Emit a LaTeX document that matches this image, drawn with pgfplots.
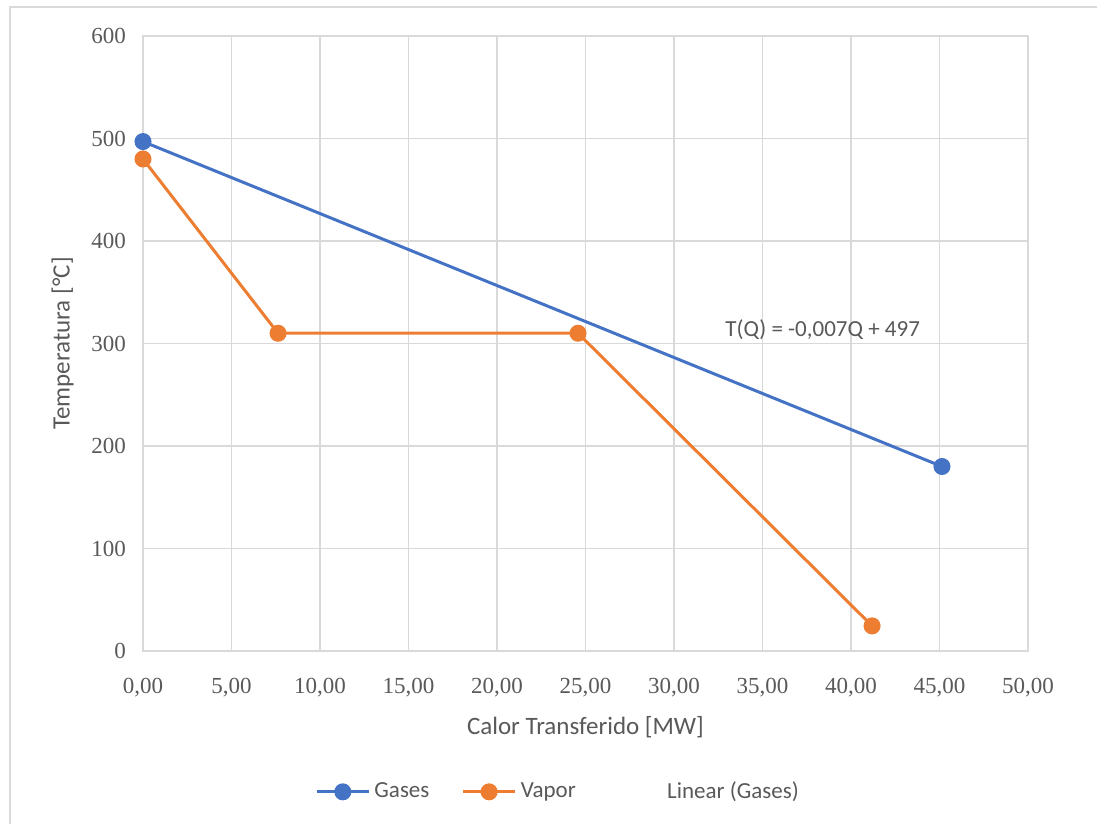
\documentclass[border=0pt]{standalone}
\usepackage{fontspec}
\setmainfont{Carlito}
\newfontfamily\tickfont{Liberation Serif}
\usepackage{pgfplots}
\pgfplotsset{compat=1.18}
\definecolor{cblue}{HTML}{4472C4}
\definecolor{corange}{HTML}{ED7D31}
\definecolor{cgrid}{HTML}{D9D9D9}
\definecolor{ctext}{HTML}{595959}
\begin{document}
\begin{tikzpicture}[x=0.5pt,y=0.5pt]
\useasboundingbox (-143,-173) rectangle (954,651);
\draw[cgrid, line width=1pt] (-133,-180) -- (-133,644) -- (960,644);
\begin{axis}[
  at={(0,0)}, anchor=south west,
  scale only axis, width=442.5pt, height=307.5pt,
  xmin=0, xmax=50, ymin=0, ymax=600,
  xtick={0,5,...,50}, ytick={0,100,...,600},
  grid=major, major grid style={cgrid, line width=0.6pt},
  axis line style={cgrid, line width=0.6pt},
  tick style={draw=none},
  /pgf/number format/assume math mode=true,
  xticklabel style={font=\tickfont\fontsize{11.5}{13}\selectfont, text=ctext, yshift=-10pt},
  yticklabel style={font=\tickfont\fontsize{11.5}{13}\selectfont, text=ctext, xshift=-5pt},
  x tick label style={/pgf/number format/.cd, fixed, fixed zerofill, precision=2, use comma},
  y tick label style={/pgf/number format/.cd, fixed, precision=0, 1000 sep={}},
  xlabel={Calor Transferido [MW]},
  ylabel={Temperatura [°C]},
  label style={font=\fontsize{12.5}{14}\selectfont, text=ctext},
  xlabel style={yshift=-3pt},
  ylabel style={yshift=2pt},
  legend columns=3,
  legend style={at={(0.47,-0.229)}, anchor=center, draw=none, fill=none,
    font=\fontsize{11.5}{13}\selectfont, text=ctext,
    /tikz/every even column/.append style={column sep=14pt}},
  legend cell align=left,
  legend image code/.code={\draw[mark repeat=2,mark phase=2,#1] plot coordinates {(0cm,0cm) (0.46cm,0cm) (0.92cm,0cm)};},
]
\addplot[cblue, line width=1.5pt, mark=*, mark size=3.5pt, mark options={fill=cblue, draw=cblue}]
  coordinates {(0,497) (45.14,180)};
\addlegendentry{Gases}
\addplot[corange, line width=1.5pt, mark=*, mark size=3.5pt, mark options={fill=corange, draw=corange}]
  coordinates {(0,480) (7.63,310) (24.58,310) (41.19,24.5)};
\addlegendentry{Vapor}
\addlegendimage{white, line width=1.5pt}
\addlegendentry{Linear (Gases)}
\node[font=\fontsize{11.5}{13}\selectfont, text=ctext] at (axis cs:38.4,313) {T(Q) = -0,007Q + 497};
\end{axis}
\end{tikzpicture}
\end{document}
